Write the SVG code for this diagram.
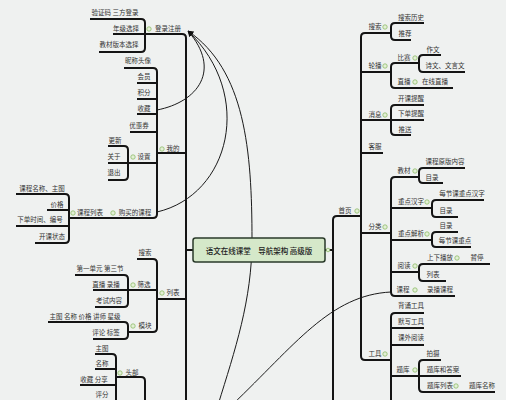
<svg xmlns="http://www.w3.org/2000/svg" width="506" height="400" viewBox="0 0 506 400">
<style>
.t{stroke:#141414;stroke-width:2;fill:none}
.r{stroke:#1a1a1a;stroke-width:1;fill:none}
text{font-family:"Noto Sans CJK SC","Noto Sans",sans-serif;font-size:6.5px;fill:#333;text-anchor:middle}
.d{fill:#e3efd6;stroke:#8dbb68;stroke-width:0.8}
.root text{font-size:7.5px;fill:#222;font-weight:500}
</style>
<defs>
<marker id="ah" viewBox="0 0 10 10" refX="9" refY="5" markerWidth="6" markerHeight="6" orient="auto"><path d="M0,0 L10,5 L0,10 z" fill="#111"/></marker>
</defs>
<rect width="506" height="400" fill="#eff1f0"/>
<g id="connectors">
<!-- right side -->
<path class="t" d="M325,250 H333"/>
<path class="t" d="M361,216 H337 Q333,216 333,220 V405"/>
<path class="t" d="M391,33 H365 Q361,33 361,37 V356 Q361,360 365,360 H391"/>
<path class="t" d="M361,72 H391 M361,120 H391 M361,153 H383 M361,233 H391"/>
<path class="t" d="M424,23 H395 Q391,23 391,27 V36 Q391,40 395,40 H411"/>
<path class="t" d="M419,63 H395 Q391,63 391,67 V84 Q391,88 395,88 H453"/>
<path class="t" d="M441,55 H423 Q419,55 419,59 V68 Q419,72 423,72 H465"/>
<path class="t" d="M424,105 H395 Q391,105 391,109 V131 Q391,135 395,135 H411 M391,120 H424"/>
<path class="t" d="M419,177 H395 Q391,177 391,181 V292 Q391,296 395,296 H455 M391,208 H432 M391,240 H432 M391,272 H419"/>
<path class="t" d="M465,168 H423 Q419,168 419,172 V179 Q419,183 423,183 H443"/>
<path class="t" d="M484,200 H436 Q432,200 432,204 V213 Q432,217 436,217 H458"/>
<path class="t" d="M458,232 H436 Q432,232 432,236 V243 Q432,247 436,247 H471"/>
<path class="t" d="M490,264 H423 Q419,264 419,268 V277 Q419,281 423,281 H446"/>
<path class="t" d="M424,313 H395 Q391,313 391,317 V405 M391,328 H424 M391,345 H424 M391,376 H419"/>
<path class="t" d="M441,360 H423 Q419,360 419,364 V388 Q419,392 423,392 H495 M419,376 H461"/>
<!-- left side -->
<path class="t" d="M145,34 H182 Q186,34 186,38 V405 M186,153 H157 M186,299 H157 M186,250 H193"/>
<path class="t" d="M90,19 H141 Q145,19 145,23 V48 Q145,52 141,52 H99 M113,34 H145"/>
<path class="t" d="M124,68 H153 Q157,68 157,72 V214 Q157,218 153,218 H69 M157,83 H137 M157,99 H137 M157,114 H137 M157,132 H130 M157,163 H128"/>
<path class="t" d="M108,146 H124 Q128,146 128,150 V176 Q128,180 124,180 H108 M128,163 H108"/>
<path class="t" d="M16,194 H65 Q69,194 69,198 V239 Q69,243 65,243 H35 M69,210 H47 M69,226 H16"/>
<path class="t" d="M137,259 H153 Q157,259 157,263 V328 Q157,332 153,332 H128 M157,290 H128"/>
<path class="t" d="M75,275 H124 Q128,275 128,279 V303 Q128,307 124,307 H95 M128,290 H93"/>
<path class="t" d="M48,322 H124 Q128,322 128,326 V335 Q128,339 124,339 H93"/>
<path class="t" d="M116,377 H141 Q145,377 145,381 V405"/>
<path class="t" d="M95,354 H112 Q116,354 116,358 V405 M116,369 H95 M116,385 H80 M116,401 H95"/>
<!-- relation curves -->
<path class="r" d="M157,110 C198,102 222,70 188,31" marker-end="url(#ah)"/>
<path class="r" d="M157,212 C230,195 255,95 188,31" marker-end="url(#ah)"/>
<path class="r" d="M218,405 C235,350 252,300 252,240 C252,150 245,70 188,31" marker-end="url(#ah)"/>
<path class="r" d="M232,405 C295,345 330,295 391,292"/>
</g>
<g id="root" class="root">
<rect x="193" y="238" width="132" height="24" rx="2.5" fill="#d5e8c9" stroke="#2a3a2a" stroke-width="1.5"/>
<text x="259" y="253.5">语文在线课堂　导航架构 高级版</text>
<circle class="d" cx="328" cy="250" r="1.8"/>
</g>
<!-- right nodes -->
<g id="n-shouye"><text x="345" y="213.3">首页</text><circle class="d" cx="357" cy="211" r="2.2"/></g>
<g id="n-sousuo"><text x="375" y="29.3">搜索</text><circle class="d" cx="385" cy="27" r="2.2"/></g>
<g id="n-ssls"><text x="411" y="20.3">搜索历史</text></g>
<g id="n-tuijian"><text x="405" y="36.3">推荐</text></g>
<g id="n-lunbo"><text x="375" y="68.3">轮播</text><circle class="d" cx="385" cy="66" r="2.2"/></g>
<g id="n-bisai"><text x="404" y="60.3">比赛</text><circle class="d" cx="415" cy="58" r="2.2"/></g>
<g id="n-zuowen"><text x="433" y="52.3">作文</text></g>
<g id="n-shiwen"><text x="445" y="68.3">诗文、文言文</text></g>
<g id="n-zhibo"><text x="404" y="84.3">直播</text><circle class="d" cx="415" cy="82" r="2.2"/></g>
<g id="n-zxzb"><text x="435" y="84.3">在线直播</text></g>
<g id="n-xiaoxi"><text x="375" y="117.3">消息</text><circle class="d" cx="385" cy="115" r="2.2"/></g>
<g id="n-kktx"><text x="411" y="101.3">开课提醒</text></g>
<g id="n-xdtx"><text x="411" y="116.3">下单提醒</text></g>
<g id="n-tuisong"><text x="405" y="132.3">推送</text></g>
<g id="n-kefu"><text x="375" y="149.3">客服</text></g>
<g id="n-fenlei"><text x="375" y="229.3">分类</text><circle class="d" cx="385" cy="227" r="2.2"/></g>
<g id="n-jiaocai"><text x="404" y="173.3">教材</text><circle class="d" cx="415" cy="171" r="2.2"/></g>
<g id="n-kcybnr"><text x="445" y="164.3">课程原版内容</text></g>
<g id="n-mulu1"><text x="432" y="180.3">目录</text></g>
<g id="n-zdhz"><text x="411" y="204.3">重点汉字</text><circle class="d" cx="427" cy="202" r="2.2"/></g>
<g id="n-mjkzdhz"><text x="462" y="196.3">每节课重点汉字</text></g>
<g id="n-mulu2"><text x="446" y="213.3">目录</text></g>
<g id="n-zdjx"><text x="411" y="236.3">重点解析</text><circle class="d" cx="427" cy="234" r="2.2"/></g>
<g id="n-mulu3"><text x="446" y="228.3">目录</text></g>
<g id="n-mjkzd"><text x="455" y="243.3">每节课重点</text></g>
<g id="n-yuedu"><text x="404" y="268.3">阅读</text><circle class="d" cx="415" cy="266" r="2.2"/></g>
<g id="n-sxbf"><text x="440" y="260.3">上下播放</text><circle class="d" cx="457" cy="258" r="2.2"/></g>
<g id="n-zanting"><text x="477" y="260.3">暂停</text></g>
<g id="n-liebiao"><text x="433" y="277.3">列表</text></g>
<g id="n-kecheng"><text x="403" y="292.3">课程</text><circle class="d" cx="415" cy="290" r="2.2"/></g>
<g id="n-lbkc"><text x="440" y="292.3">录播课程</text></g>
<g id="n-gongju"><text x="375" y="356.3">工具</text><circle class="d" cx="385" cy="354" r="2.2"/></g>
<g id="n-bsgj"><text x="411" y="308.3">背诵工具</text></g>
<g id="n-mxgj"><text x="411" y="324.3">默写工具</text></g>
<g id="n-kwyd"><text x="411" y="340.3">课外阅读</text></g>
<g id="n-tiku"><text x="403" y="372.3">题库</text><circle class="d" cx="415" cy="370" r="2.2"/></g>
<g id="n-paishe"><text x="433" y="356.3">拍摄</text></g>
<g id="n-tkhda"><text x="443" y="372.3">题库和答案</text></g>
<g id="n-tklb"><text x="440" y="388.3">题库列表</text><circle class="d" cx="456" cy="386" r="2.2"/></g>
<g id="n-tkmc"><text x="482" y="388.3">题库名称</text></g>
<!-- left nodes -->
<g id="n-dlzc"><text x="168" y="31.3">登录注册</text><circle class="d" cx="149" cy="29" r="2.2"/></g>
<g id="n-yzm"><text x="115" y="15.3">验证码 三方登录</text></g>
<g id="n-njxz"><text x="126" y="31.3">年级选择</text></g>
<g id="n-jcbb"><text x="119" y="47.3">教材版本选择</text></g>
<g id="n-wode"><text x="173" y="151.3">我的</text><circle class="d" cx="162" cy="149" r="2.2"/></g>
<g id="n-ncxt"><text x="138" y="63.3">昵称头像</text></g>
<g id="n-huiyuan"><text x="144" y="79.3">会员</text></g>
<g id="n-jifen"><text x="144" y="95.3">积分</text></g>
<g id="n-shoucang"><text x="144" y="111.3">收藏</text></g>
<g id="n-yhq"><text x="139" y="128.3">优惠券</text></g>
<g id="n-shezhi"><text x="144" y="159.3">设置</text><circle class="d" cx="133" cy="157" r="2.2"/></g>
<g id="n-gengxin"><text x="115" y="143.3">更新</text></g>
<g id="n-guanyu"><text x="114" y="159.3">关于</text></g>
<g id="n-tuichu"><text x="114" y="175.3">退出</text></g>
<g id="n-gmdkc"><text x="135" y="215.3">购买的课程</text><circle class="d" cx="113" cy="213" r="2.2"/></g>
<g id="n-kclb"><text x="90" y="215.3">课程列表</text><circle class="d" cx="73" cy="213" r="2.2"/></g>
<g id="n-kcmc"><text x="42" y="191.3">课程名称、主图</text></g>
<g id="n-jiage"><text x="57" y="207.3">价格</text></g>
<g id="n-xdsj"><text x="40" y="222.3">下单时间、编号</text></g>
<g id="n-kkzt"><text x="52" y="239.3">开课状态</text></g>
<g id="n-liebiaoL"><text x="173" y="295.3">列表</text><circle class="d" cx="162" cy="293" r="2.2"/></g>
<g id="n-sousuoL"><text x="145" y="255.3">搜索</text></g>
<g id="n-shaixuan"><text x="144" y="287.3">筛选</text><circle class="d" cx="133" cy="285" r="2.2"/></g>
<g id="n-dyydsj"><text x="100" y="271.3">第一单元 第三节</text></g>
<g id="n-zblb"><text x="106" y="287.3">直播 录播</text></g>
<g id="n-ksnr"><text x="109" y="303.3">考试内容</text></g>
<g id="n-mokuai"><text x="145" y="328.3">模块</text><circle class="d" cx="133" cy="326" r="2.2"/></g>
<g id="n-ztmc"><text x="85" y="319.3">主图 名称 价格 讲师 星级</text></g>
<g id="n-plbq"><text x="106" y="335.3">评论 标签</text></g>
<g id="n-toubu"><text x="132" y="375.3">头部</text><circle class="d" cx="120" cy="373" r="2.2"/></g>
<g id="n-zhutu"><text x="102" y="351.3">主图</text></g>
<g id="n-mingcheng"><text x="102" y="366.3">名称</text></g>
<g id="n-scfx"><text x="94" y="382.3">收藏 分享</text></g>
<g id="n-pingfen"><text x="102" y="397.3">评分</text></g>
</svg>
